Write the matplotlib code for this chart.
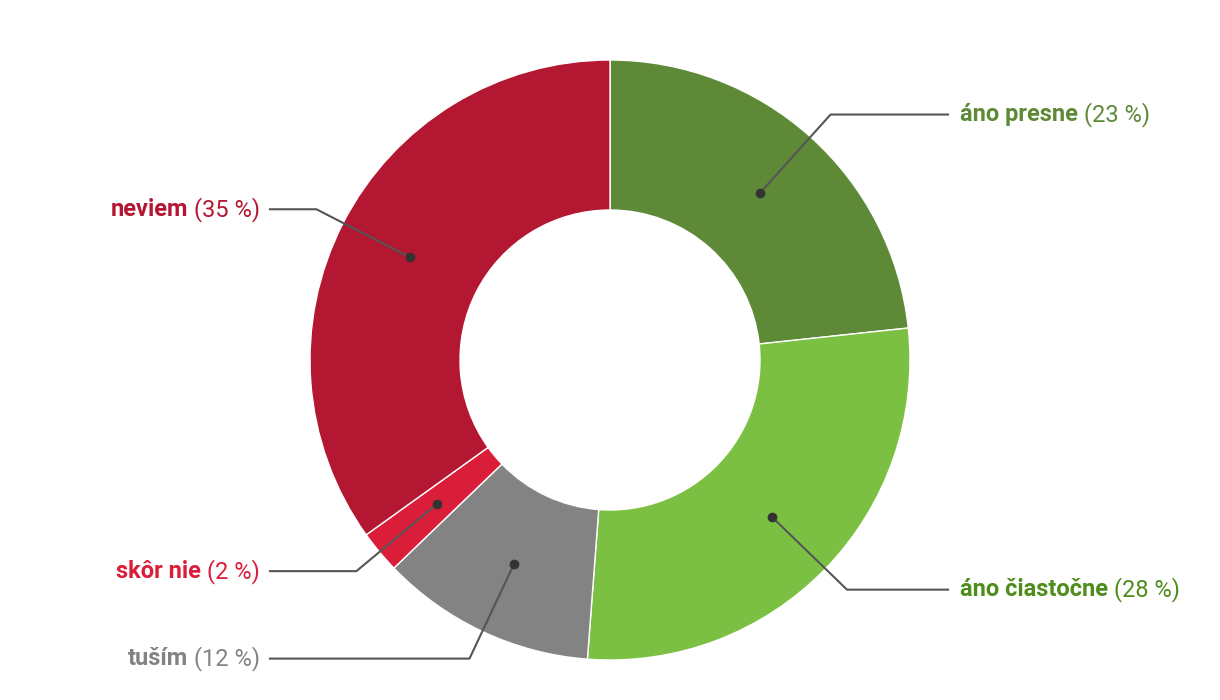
import numpy as np
import matplotlib.pyplot as plt

plt.rcParams['font.family'] = ['Roboto', 'DejaVu Sans']

labels = ['áno presne', 'áno čiastočne', 'tuším', 'skôr nie', 'neviem']
values = [23.3, 27.9, 11.6, 2.3, 34.9]
slice_colors = ['#5e8a38', '#7cc043', '#838383', '#da1e3a', '#b41732']
text_colors = ['#5e8a38', '#4e8c1c', '#838383', '#da1e3a', '#b41732']

W, H = 1220, 700
fig = plt.figure(figsize=(W / 100, H / 100), dpi=100)
ax = fig.add_axes([0, 0, 1, 1])

cx, cy, R, ring = 610, 340, 300, 150
wedges, _ = ax.pie(values, colors=slice_colors, startangle=90, counterclock=False,
                   center=(cx, cy), radius=R,
                   wedgeprops=dict(width=ring, edgecolor='white', linewidth=1))
ax.set_xlim(0, W)
ax.set_ylim(0, H)
ax.set_aspect('equal')
ax.axis('off')

fig.canvas.draw()
renderer = fig.canvas.get_renderer()

fs = 17
for w, lab, val, tc in zip(wedges, labels, values, text_colors):
    mid = np.deg2rad((w.theta1 + w.theta2) / 2)
    r_dot = R - ring / 2
    dx, dy = cx + r_dot * np.cos(mid), cy + r_dot * np.sin(mid)
    ex, ey = cx + 330 * np.cos(mid), cy + 330 * np.sin(mid)
    right = np.cos(mid) > 0
    hx = 948 if right else 270
    ax.plot([dx, ex, hx], [dy, ey, ey], color='#555555', lw=1.5, zorder=3)
    ax.plot(dx, dy, 'o', color='#333333', ms=6, zorder=4)
    pct = '(%d %%)' % round(val)
    gap = 6
    if right:
        t1 = ax.text(960, ey, lab, color=tc, fontsize=fs, fontweight='bold', va='center', ha='left')
        w1 = t1.get_window_extent(renderer).width
        ax.text(960 + w1 + gap, ey, pct, color=tc, fontsize=fs, va='center', ha='left')
    else:
        t2 = ax.text(260, ey, pct, color=tc, fontsize=fs, va='center', ha='right')
        w2 = t2.get_window_extent(renderer).width
        ax.text(260 - w2 - gap, ey, lab, color=tc, fontsize=fs, fontweight='bold', va='center', ha='right')

fig.savefig('out.png', dpi=100)
